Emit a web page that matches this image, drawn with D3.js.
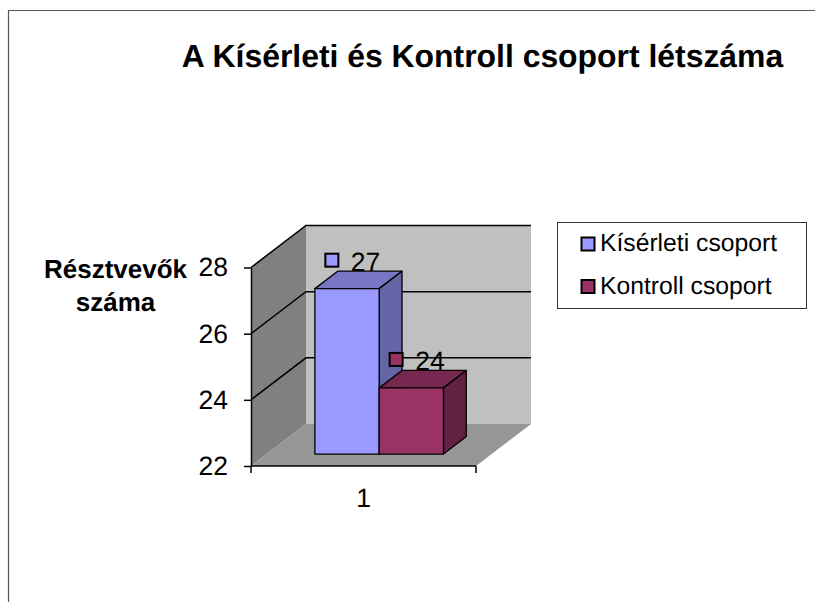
<!DOCTYPE html>
<html>
<head>
<meta charset="utf-8">
<script src="https://d3js.org/d3.v7.min.js"></script>
<style>
  html, body { margin: 0; padding: 0; background: #fff; }
  svg { display: block; }
  text { font-family: "Liberation Sans", Arial, sans-serif; fill: #000; text-rendering: geometricPrecision; }
</style>
</head>
<body>
<div id="chart"></div>
<script>
// chart values
var categories = ["1"];
var seriesNames = ["Kísérleti csoport", "Kontroll csoport"];
var seriesValues = [27, 24];
var yTicks = [22, 24, 26, 28];
var chartTitle = "A Kísérleti és Kontroll csoport létszáma";
var yTitle = ["Résztvevők", "száma"];

var seriesColours = [
  {front: "#9999ff", top: "#7777c6", side: "#6464a6"},
  {front: "#993366", top: "#772850", side: "#632142"}
];

var width = 815, height = 602;
var tickSize = 26.5, legendSize = 24.7;

var svg = d3.select("#chart")
  .append("svg")
    .attr("width", width)
    .attr("height", height);

// outer frame, open at the bottom and right where the picture is cut off
svg.append("path")
  .attr("d", "M8.5,602V10.5H815")
  .attr("fill", "none")
  .attr("stroke", "#555")
  .attr("stroke-width", 1.2);

svg.append("text")
  .attr("x", 482.5)
  .attr("y", 67)
  .attr("text-anchor", "middle")
  .attr("font-size", 31.9)
  .attr("font-weight", "bold")
  .text(chartTitle);

// plot scales
var x = d3.scaleBand().domain(categories).range([251, 476]);
var inner = d3.scaleBand()
  .domain(seriesNames)
  .range([x(categories[0]), x(categories[0]) + x.bandwidth()])
  .paddingInner(0)
  .paddingOuter(0.75);
var y = d3.scaleLinear().domain([22, 28]).range([466, 267.5]);

// 3d depth: d = 0 is the front of the floor, d = 1 is the back wall
var depthX = 55, depthY = -42;
function pt(px, py, d) {
  return [px + d * depthX, py + d * depthY];
}
function poly(points) {
  return "M" + points.map(function(p) { return p.join(","); }).join("L") + "Z";
}

var x0 = x.range()[0], x1 = x.range()[1];
var yMin = y.domain()[0], yMax = y.domain()[1];

var walls = svg.append("g");
// side wall
walls.append("path")
  .attr("d", poly([pt(x0, y(yMin), 0), pt(x0, y(yMax), 0), pt(x0, y(yMax), 1), pt(x0, y(yMin), 1)]))
  .attr("fill", "#808080");
// back wall
walls.append("path")
  .attr("d", poly([pt(x0, y(yMin), 1), pt(x0, y(yMax), 1), pt(x1, y(yMax), 1), pt(x1, y(yMin), 1)]))
  .attr("fill", "#c0c0c0");
// floor
walls.append("path")
  .attr("d", poly([pt(x0, y(yMin), 0), pt(x0, y(yMin), 1), pt(x1, y(yMin), 1), pt(x1, y(yMin), 0)]))
  .attr("fill", "#969696");

// gridlines, running along the side wall then across the back wall
walls.selectAll("path.grid")
  .data(yTicks.slice(1))
  .enter()
  .append("path")
    .attr("class", "grid")
    .attr("fill", "none")
    .attr("stroke", "#000")
    .attr("stroke-width", 1.5)
    .attr("d", function(d) {
      var a = pt(x0, y(d), 0), b = pt(x0, y(d), 1), c = pt(x1, y(d), 1);
      return "M" + a + "L" + b + "L" + c;
    });

// axes
var yAxis = svg.append("g")
  .attr("transform", "translate(" + x0 + ",0)")
  .call(d3.axisLeft(y).tickValues(yTicks).tickFormat(d3.format("d")).tickSize(7).tickPadding(16).tickSizeOuter(0));
yAxis.select(".domain").attr("stroke-width", 1.5);
yAxis.selectAll("line").attr("stroke-width", 1.5);
yAxis.selectAll("text")
  .attr("font-size", tickSize)
  .attr("font-family", "Liberation Sans")
  .attr("fill", "#000");

var xAxis = svg.append("g")
  .attr("transform", "translate(0," + y(yMin) + ")")
  .call(d3.axisBottom(x).tickSize(0).tickPadding(22));
xAxis.select(".domain").remove();
xAxis.selectAll("text")
  .attr("font-size", tickSize)
  .attr("font-family", "Liberation Sans")
  .attr("fill", "#000");
xAxis.selectAll("line.edge")
  .data(x.range())
  .enter()
  .append("line")
    .attr("class", "edge")
    .attr("x1", function(d) { return d; })
    .attr("x2", function(d) { return d; })
    .attr("y1", 0)
    .attr("y2", 7)
    .attr("stroke", "#000")
    .attr("stroke-width", 1.5);
xAxis.append("line")
  .attr("x1", x0).attr("x2", x1)
  .attr("stroke", "#000")
  .attr("stroke-width", 1.5);

// bars, from depth 0.285 to 0.7
var dFront = 0.285, dBack = 0.7;
var bars = svg.append("g")
  .attr("stroke", "#000")
  .attr("stroke-width", 1.3)
  .attr("stroke-linejoin", "round");
seriesNames.forEach(function(name, i) {
  var left = inner(name), right = left + inner.bandwidth();
  var top = y(seriesValues[i]), bottom = y(yMin);
  var g = bars.append("g");
  g.append("path")
    .attr("d", poly([pt(left, top, dFront), pt(left, top, dBack), pt(right, top, dBack), pt(right, top, dFront)]))
    .attr("fill", seriesColours[i].top);
  g.append("path")
    .attr("d", poly([pt(right, top, dFront), pt(right, top, dBack), pt(right, bottom, dBack), pt(right, bottom, dFront)]))
    .attr("fill", seriesColours[i].side);
  g.append("path")
    .attr("d", poly([pt(left, top, dFront), pt(right, top, dFront), pt(right, bottom, dFront), pt(left, bottom, dFront)]))
    .attr("fill", seriesColours[i].front);
});

// data labels with legend keys
var labels = svg.append("g");
seriesNames.forEach(function(name, i) {
  var p = pt(inner(name) + inner.bandwidth() / 2, y(seriesValues[i]), dBack);
  var cx = p[0] - 38, cy = p[1] - 11;
  labels.append("rect")
    .attr("x", cx - 6.5)
    .attr("y", cy - 6.5)
    .attr("width", 13)
    .attr("height", 13)
    .attr("fill", seriesColours[i].front)
    .attr("stroke", "#000")
    .attr("stroke-width", 2);
  labels.append("text")
    .attr("x", cx + 19)
    .attr("y", cy + 11)
    .attr("font-size", tickSize)
    .text(seriesValues[i]);
});

// y axis title
svg.append("text")
  .attr("text-anchor", "middle")
  .attr("font-size", 26)
  .attr("font-weight", "bold")
  .selectAll("tspan")
  .data(yTitle)
  .enter()
  .append("tspan")
    .attr("x", 115.5)
    .attr("y", function(d, i) { return 277.5 + i * 33; })
    .text(function(d) { return d; });

// legend
var legend = svg.append("g");
legend.append("rect")
  .attr("x", 557.5)
  .attr("y", 222.5)
  .attr("width", 249)
  .attr("height", 86)
  .attr("fill", "#fff")
  .attr("stroke", "#333")
  .attr("stroke-width", 1);
var legendY = d3.scalePoint().domain(seriesNames).range([244, 286.5]);
seriesNames.forEach(function(name, i) {
  legend.append("rect")
    .attr("x", 581.5)
    .attr("y", legendY(name) - 6.5)
    .attr("width", 13)
    .attr("height", 13)
    .attr("fill", seriesColours[i].front)
    .attr("stroke", "#000")
    .attr("stroke-width", 2);
  legend.append("text")
    .attr("x", 600)
    .attr("y", legendY(name) + 7)
    .attr("font-size", legendSize)
    .text(name);
});
</script>
</body>
</html>
